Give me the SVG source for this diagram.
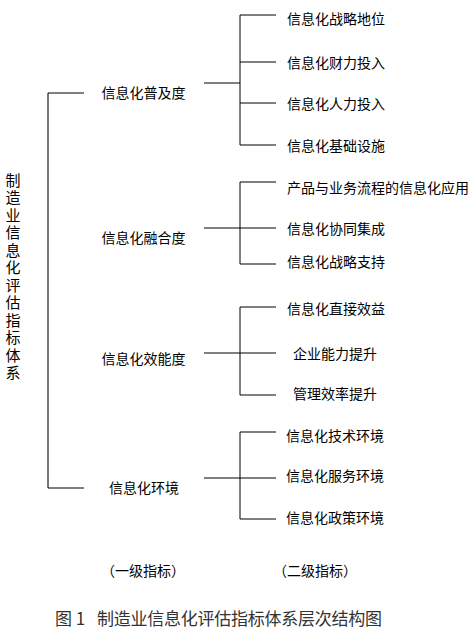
<svg xmlns="http://www.w3.org/2000/svg" width="476" height="630" viewBox="0 0 476 630">
<style>
text{font-family:"Noto Sans CJK SC","Liberation Sans",sans-serif;fill:#000;dominant-baseline:central}
.l1{font-size:14px;text-anchor:middle}
.l2{font-size:14px}
.title{font-size:15px;writing-mode:vertical-rl;letter-spacing:2.5px}
.cap{font-size:17px;fill:#333}
.ln{stroke:#000;stroke-width:1;fill:none}
.gr{stroke:#777;stroke-width:2;fill:none}
</style>
<rect width="476" height="630" fill="#fff"/>
<g id="connectors">
<path class="gr" d="M48,93 V488"/>
<path class="ln" d="M48,93 H84 M48,488 H84"/>
<path class="ln" d="M204,83 H240 M240,15 V145 M240,15 H276 M240,62 H276 M240,103 H276 M240,145 H276"/>
<path class="ln" d="M204,228 H240 M240,182 V264 M240,182 H276 M240,228 H276 M240,264 H276"/>
<path class="ln" d="M204,353 H240 M240,307 V395 M240,307 H276 M240,353 H276 M240,395 H276"/>
<path class="ln" d="M204,478 H240 M240,432 V519 M240,432 H276 M240,478 H276 M240,519 H276"/>
</g>
<g id="root">
<text class="title" x="13" y="172.5">制造业信息化评估指标体系</text>
</g>
<g id="n1"><text class="l1" x="143.5" y="92">信息化普及度</text></g>
<g id="n2"><text class="l1" x="143.5" y="237">信息化融合度</text></g>
<g id="n3"><text class="l1" x="143.5" y="358">信息化效能度</text></g>
<g id="n4"><text class="l1" x="144" y="487">信息化环境</text></g>
<g id="n1a"><text class="l2" x="287" y="18">信息化战略地位</text></g>
<g id="n1b"><text class="l2" x="287" y="62">信息化财力投入</text></g>
<g id="n1c"><text class="l2" x="287" y="103">信息化人力投入</text></g>
<g id="n1d"><text class="l2" x="287" y="145">信息化基础设施</text></g>
<g id="n2a"><text class="l2" x="287" y="187">产品与业务流程的信息化应用</text></g>
<g id="n2b"><text class="l2" x="287" y="228">信息化协同集成</text></g>
<g id="n2c"><text class="l2" x="287" y="261">信息化战略支持</text></g>
<g id="n3a"><text class="l2" x="287" y="308">信息化直接效益</text></g>
<g id="n3b"><text class="l2" x="293" y="353">企业能力提升</text></g>
<g id="n3c"><text class="l2" x="293" y="393">管理效率提升</text></g>
<g id="n4a"><text class="l2" x="286" y="435">信息化技术环境</text></g>
<g id="n4b"><text class="l2" x="286" y="475">信息化服务环境</text></g>
<g id="n4c"><text class="l2" x="286" y="517">信息化政策环境</text></g>
<g id="labels">
<text class="l1" x="143" y="570">（一级指标）</text>
<text class="l1" x="315" y="570">（二级指标）</text>
</g>
<g id="caption">
<text class="cap" x="55" y="617">图 1</text>
<text class="cap" x="97" y="617" textLength="285">制造业信息化评估指标体系层次结构图</text>
</g>
</svg>
